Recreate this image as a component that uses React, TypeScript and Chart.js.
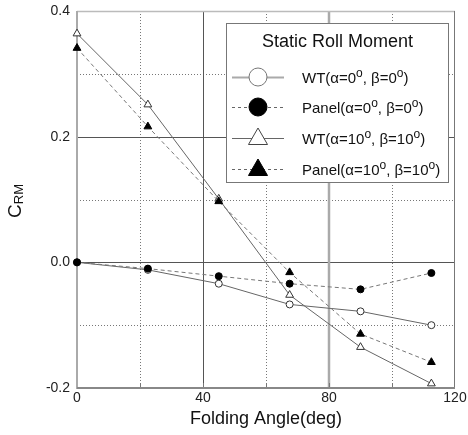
import { useEffect, useRef } from 'react';
import { Chart, registerables } from 'chart.js';

Chart.register(...registerables);

const foldingAngles = [0, 22.5, 45, 67.5, 90, 112.5];
const wtA0 = [0, -0.012, -0.034, -0.067, -0.078, -0.1];
const panelA0 = [0, -0.01, -0.022, -0.034, -0.043, -0.017];
const wtA10 = [0.364, 0.251, 0.101, -0.052, -0.135, -0.193];
const panelA10 = [0.341, 0.216, 0.097, -0.016, -0.114, -0.159];

const xMajor = [40, 80];
const xMinor = [20, 60, 100];
const yMajor = [0.2, 0.0];
const yMinor = [0.3, 0.1, -0.1];
const xTickLabels = [0, 40, 80, 120];
const yTickLabels = [-0.2, 0.0, 0.2, 0.4];

const legendTitle = 'Static Roll Moment';
const seriesNames = [
  ['WT(α=0', 'o', ', β=0', 'o', ')'],
  ['Panel(α=0', 'o', ', β=0', 'o', ')'],
  ['WT(α=10', 'o', ', β=10', 'o', ')'],
  ['Panel(α=10', 'o', ', β=10', 'o', ')'],
];
const xTitle = 'Folding Angle(deg)';
const yTitleMain = 'C';
const yTitleSub = 'RM';

const FONT = '"Liberation Sans", Arial, sans-serif';

function pts(ys: number[]) {
  return foldingAngles.map((x, i) => ({ x, y: ys[i] }));
}

function drawTri(ctx: CanvasRenderingContext2D, cx: number, cy: number, r: number, fill: string, stroke: string) {
  ctx.beginPath();
  ctx.moveTo(cx, cy - r);
  ctx.lineTo(cx + r * 0.866, cy + r * 0.5);
  ctx.lineTo(cx - r * 0.866, cy + r * 0.5);
  ctx.closePath();
  ctx.fillStyle = fill;
  ctx.fill();
  ctx.strokeStyle = stroke;
  ctx.lineWidth = 1;
  ctx.stroke();
}

function drawCirc(ctx: CanvasRenderingContext2D, cx: number, cy: number, r: number, fill: string, stroke: string) {
  ctx.beginPath();
  ctx.arc(cx, cy, r, 0, Math.PI * 2);
  ctx.fillStyle = fill;
  ctx.fill();
  ctx.strokeStyle = stroke;
  ctx.lineWidth = 1;
  ctx.stroke();
}

const customPlugin = {
  id: 'customDecor',
  beforeDatasetsDraw(chart: any) {
    const { ctx, chartArea } = chart;
    const { left, right, top, bottom } = chartArea;
    const xs = chart.scales.x;
    const ys = chart.scales.y;
    const line = (x1: number, y1: number, x2: number, y2: number) => {
      ctx.beginPath();
      ctx.moveTo(x1, y1);
      ctx.lineTo(x2, y2);
      ctx.stroke();
    };
    ctx.save();
    ctx.setLineDash([1, 2]);
    ctx.strokeStyle = '#777';
    ctx.lineWidth = 1;
    xMinor.forEach((v) => {
      const px = Math.round(xs.getPixelForValue(v)) + 0.5;
      line(px, top, px, bottom);
    });
    yMinor.forEach((v) => {
      const py = Math.round(ys.getPixelForValue(v)) + 0.5;
      line(left, py, right, py);
    });
    ctx.setLineDash([]);
    ctx.strokeStyle = '#555';
    ctx.lineWidth = 1;
    yMajor.forEach((v) => {
      const py = Math.round(ys.getPixelForValue(v)) + 0.5;
      line(left, py, right, py);
    });
    const px40 = Math.round(xs.getPixelForValue(xMajor[0])) + 0.5;
    line(px40, top, px40, bottom);
    ctx.strokeStyle = '#aaa';
    ctx.lineWidth = 2.5;
    const px80 = Math.round(xs.getPixelForValue(xMajor[1]));
    line(px80, top, px80, bottom);
    ctx.strokeStyle = '#777';
    ctx.lineWidth = 1;
    [20, 40, 60, 80, 100].forEach((v) => {
      const px = Math.round(xs.getPixelForValue(v)) + 0.5;
      line(px, bottom, px, bottom - 5);
    });
    ctx.strokeStyle = '#bbb';
    ctx.lineWidth = 1.5;
    line(left, Math.round(top) + 0.5, right, Math.round(top) + 0.5);
    ctx.strokeStyle = '#777';
    ctx.lineWidth = 1;
    line(Math.round(right) - 0.5, top, Math.round(right) - 0.5, bottom);
    ctx.strokeStyle = '#aaa';
    ctx.lineWidth = 2;
    line(Math.round(left), top, Math.round(left), bottom + 1);
    ctx.strokeStyle = '#888';
    ctx.lineWidth = 2;
    line(left, Math.round(bottom), right, Math.round(bottom));
    ctx.restore();
  },
  afterDatasetsDraw(chart: any) {
    const { ctx, chartArea } = chart;
    ctx.save();
    const bx = 226.5, by = 23.5, bw = 222, bh = 159;
    ctx.fillStyle = '#fff';
    ctx.fillRect(bx, by, bw, bh);
    ctx.strokeStyle = '#777';
    ctx.lineWidth = 1;
    ctx.strokeRect(bx, by, bw, bh);
    ctx.fillStyle = '#111';
    ctx.font = `18px ${FONT}`;
    ctx.textAlign = 'center';
    ctx.textBaseline = 'alphabetic';
    ctx.fillText(legendTitle, bx + bw / 2, 47);
    const rowsY = [77, 107, 138, 169];
    rowsY.forEach((ry, i) => {
      ctx.save();
      if (i === 0) {
        ctx.strokeStyle = '#aaa';
        ctx.lineWidth = 2;
        ctx.setLineDash([]);
      } else if (i === 2) {
        ctx.strokeStyle = '#666';
        ctx.lineWidth = 1;
        ctx.setLineDash([]);
      } else {
        ctx.strokeStyle = '#666';
        ctx.lineWidth = 1;
        ctx.setLineDash([3, 3]);
      }
      ctx.beginPath();
      ctx.moveTo(232, ry + 0.5);
      ctx.lineTo(284, ry + 0.5);
      ctx.stroke();
      ctx.restore();
      if (i === 0) drawCirc(ctx, 258, ry, 9, '#fff', '#777');
      if (i === 1) drawCirc(ctx, 258, ry, 9, '#000', '#000');
      if (i === 2) drawTri(ctx, 258, ry + 1, 11, '#fff', '#444');
      if (i === 3) drawTri(ctx, 258, ry + 1, 11, '#000', '#000');
      let tx = 302;
      ctx.textAlign = 'left';
      ctx.fillStyle = '#111';
      seriesNames[i].forEach((part, j) => {
        const sup = j % 2 === 1;
        ctx.font = sup ? `12px ${FONT}` : `15px ${FONT}`;
        ctx.fillText(part, tx, sup ? ry : ry + 5.5);
        tx += ctx.measureText(part).width;
      });
    });
    ctx.fillStyle = '#111';
    ctx.font = `18px ${FONT}`;
    ctx.textAlign = 'center';
    ctx.fillText(xTitle, (chartArea.left + chartArea.right) / 2, 424);
    ctx.save();
    ctx.translate(21, 201);
    ctx.rotate(-Math.PI / 2);
    ctx.textAlign = 'left';
    ctx.font = `19px ${FONT}`;
    const wC = ctx.measureText(yTitleMain).width;
    ctx.font = `13px ${FONT}`;
    const wS = ctx.measureText(yTitleSub).width;
    const start = -(wC + wS) / 2;
    ctx.font = `19px ${FONT}`;
    ctx.fillText(yTitleMain, start, 0);
    ctx.font = `13px ${FONT}`;
    ctx.fillText(yTitleSub, start + wC, 2);
    ctx.restore();
    ctx.restore();
  },
};

export default function App() {
  const ref = useRef<HTMLCanvasElement | null>(null);
  useEffect(() => {
    if (!ref.current) return;
    const common = { borderWidth: 1, tension: 0, clip: false as any, pointBorderWidth: 1 };
    const chart = new Chart(ref.current, {
      type: 'line',
      data: {
        datasets: [
          {
            ...common,
            label: 'WT a0',
            data: pts(wtA0),
            borderColor: '#666',
            pointStyle: 'circle',
            pointRadius: 3.5,
            pointBackgroundColor: '#fff',
            pointBorderColor: '#333',
            order: 2,
          },
          {
            ...common,
            label: 'Panel a0',
            data: pts(panelA0),
            borderColor: '#777',
            borderDash: [4, 3],
            pointStyle: 'circle',
            pointRadius: 3.5,
            pointBackgroundColor: '#000',
            pointBorderColor: '#000',
            order: 1,
          },
          {
            ...common,
            label: 'WT a10',
            data: pts(wtA10),
            borderColor: '#666',
            pointStyle: 'triangle',
            pointRadius: 4.5,
            pointBackgroundColor: '#fff',
            pointBorderColor: '#333',
            order: 2,
          },
          {
            ...common,
            label: 'Panel a10',
            data: pts(panelA10),
            borderColor: '#777',
            borderDash: [4, 3],
            pointStyle: 'triangle',
            pointRadius: 4.5,
            pointBackgroundColor: '#000',
            pointBorderColor: '#000',
            order: 1,
          },
        ],
      },
      options: {
        responsive: false,
        animation: false,
        layout: { padding: { left: 0, right: 13, top: 11, bottom: 0 } },
        plugins: { legend: { display: false }, tooltip: { enabled: false } },
        scales: {
          x: {
            type: 'linear',
            min: 0,
            max: 120,
            grid: { display: false, drawTicks: false },
            border: { display: false },
            afterFit: (s: any) => {
              s.height = 47;
              s.paddingLeft = 0;
              s.paddingRight = 0;
              s.paddingTop = 0;
              s.paddingBottom = 0;
            },
            ticks: {
              stepSize: 20,
              padding: 2,
              color: '#222',
              font: { family: FONT, size: 14 },
              autoSkip: false,
              maxRotation: 0,
              callback: (v: any) => (xTickLabels.includes(Number(v)) ? String(v) : ''),
            },
          },
          y: {
            type: 'linear',
            min: -0.2,
            max: 0.4,
            grid: { display: false, drawTicks: false },
            border: { display: false },
            afterFit: (s: any) => {
              s.width = 77;
              s.paddingLeft = 0;
              s.paddingRight = 0;
              s.paddingTop = 0;
              s.paddingBottom = 0;
            },
            ticks: {
              stepSize: 0.1,
              padding: 7,
              color: '#222',
              font: { family: FONT, size: 14 },
              autoSkip: false,
              callback: (v: any) => {
                const n = Math.round(Number(v) * 10) / 10;
                return yTickLabels.some((t) => Math.abs(t - n) < 1e-9) ? n.toFixed(1) : '';
              },
            },
          },
        },
      },
      plugins: [customPlugin],
    });
    return () => chart.destroy();
  }, []);
  return (
    <div style={{ position: 'absolute', left: 0, top: 0, width: 468, height: 435, background: '#fff' }}>
      <canvas ref={ref} width={468} height={435} />
    </div>
  );
}
